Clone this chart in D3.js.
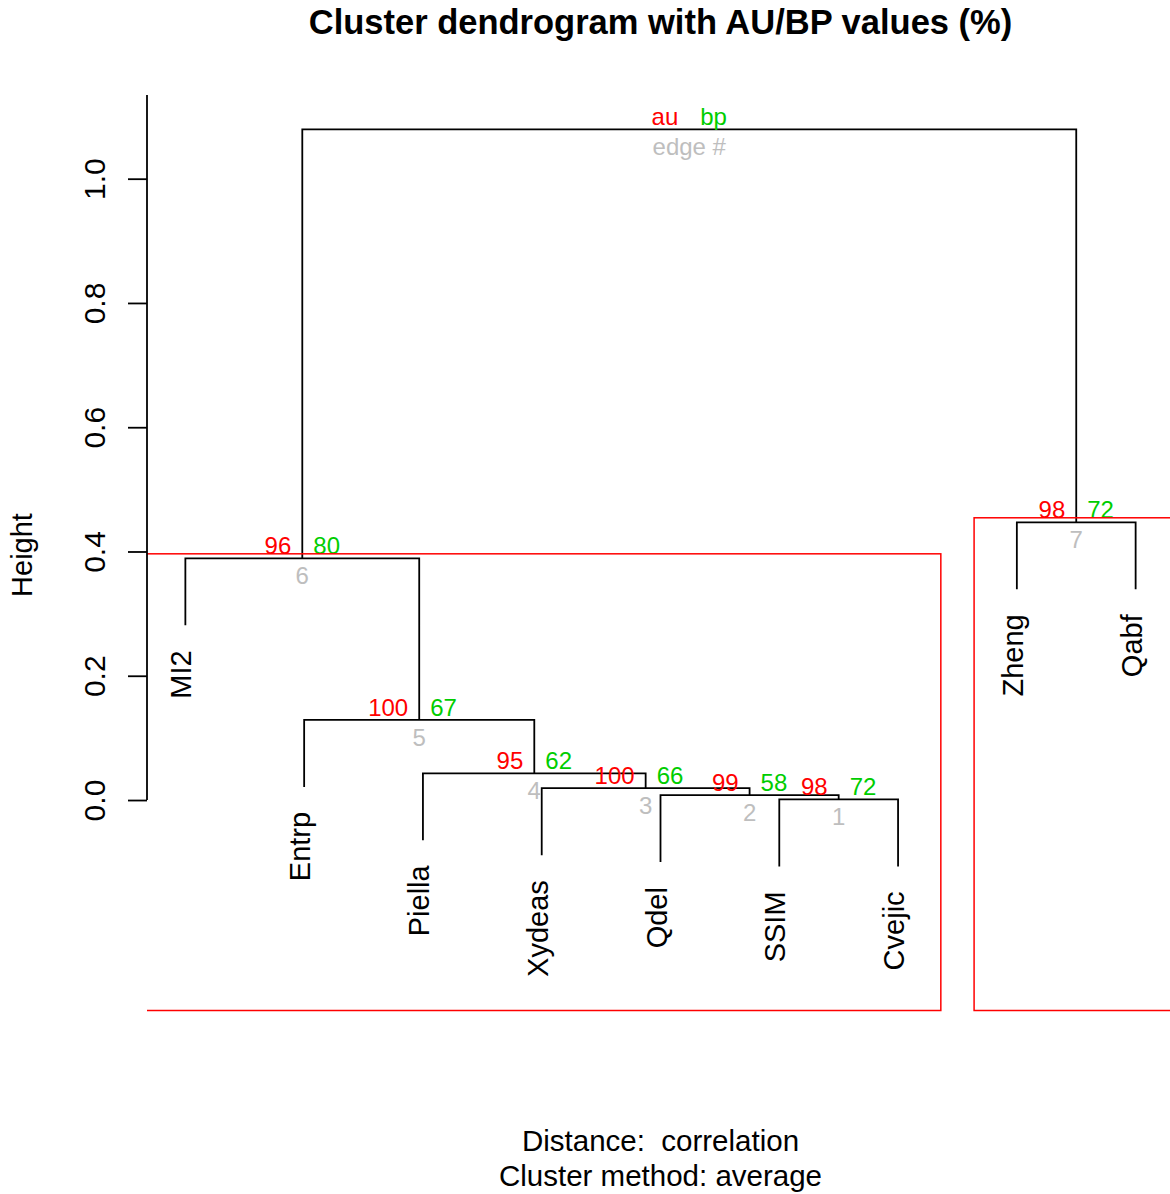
<!DOCTYPE html>
<html lang="en">
<head>
  <meta charset="UTF-8">
  <title>Cluster dendrogram with AU/BP values (%)</title>
  <script src="https://d3js.org/d3.v7.min.js"></script>
  <style>
    body { margin: 0; background: #fff; font-family: "Liberation Sans", Arial, Helvetica, sans-serif; }
    svg text { font-family: "Liberation Sans", Arial, Helvetica, sans-serif; }
  </style>
</head>
<body>
<div id="chart"></div>
<script>
// leaves in plotting order
const leaves = ["MI2", "Entrp", "Piella", "Xydeas", "Qdel", "SSIM", "Cvejic", "Zheng", "Qabf"];

// hclust-style merge table: negative = leaf (1-based), positive = earlier merge
const mergeA = [-6, -5, -4, -3, -2, -1, -8, 6];
const mergeB = [-7, 1, 2, 3, 4, 5, -9, 7];
const heights = [0.001, 0.008, 0.019, 0.043, 0.129, 0.389, 0.447, 1.0795];

// pvclust values per edge (root has none)
const au = [98, 99, 100, 95, 100, 96, 98];
const bp = [72, 58, 66, 62, 67, 80, 72];

// clusters boxed by pvrect (edge numbers)
const rectEdges = [6, 7];

const yTicks = [0, 0.2, 0.4, 0.6, 0.8, 1.0];

const width = 1170, height = 1194;
const colAu = "#ff0000", colBp = "#00cd00", colEdge = "#bebebe";

const svg = d3.select("#chart").append("svg")
  .attr("width", width)
  .attr("height", height);

svg.append("rect").attr("width", width).attr("height", height).attr("fill", "#fff");

// plot region in data units
const xMin = 0.677, xMax = 9.323;
const yMin = -0.346, yMax = 1.1347;

const x = d3.scaleLinear().domain([xMin, xMax]).range([147, 1174]);
const y = d3.scaleLinear().domain([yMin, yMax]).range([1015, 95]);

const hang = 0.1 * (d3.max(heights) - d3.min(heights));

svg.append("clipPath").attr("id", "plotclip")
  .append("rect")
  .attr("x", x(xMin)).attr("y", y(yMax))
  .attr("width", x(xMax) - x(xMin)).attr("height", y(yMin) - y(yMax));

// node positions
const nodeX = [];
const members = [];
function childX(c) { return c < 0 ? -c : nodeX[c - 1]; }
function childMembers(c) { return c < 0 ? [-c] : members[c - 1]; }
mergeA.forEach((a, i) => {
  const b = mergeB[i];
  nodeX.push((childX(a) + childX(b)) / 2);
  members.push(childMembers(a).concat(childMembers(b)));
});

// branches
const g = svg.append("g");
function childBottom(c, parentH) {
  return c < 0 ? parentH - hang : heights[c - 1];
}
mergeA.forEach((a, i) => {
  const b = mergeB[i];
  const h = heights[i];
  const p = d3.path();
  p.moveTo(x(childX(a)), y(childBottom(a, h)));
  p.lineTo(x(childX(a)), y(h));
  p.lineTo(x(childX(b)), y(h));
  p.lineTo(x(childX(b)), y(childBottom(b, h)));
  g.append("path")
    .attr("d", p.toString())
    .attr("fill", "none")
    .attr("stroke", "#000")
    .attr("stroke-width", 1.8);
});

// leaf labels
const leafEnd = new Array(leaves.length);
mergeA.forEach((a, i) => {
  [a, mergeB[i]].forEach(c => { if (c < 0) leafEnd[-c - 1] = heights[i] - hang; });
});
g.selectAll(".leaf")
  .data(leaves)
  .enter()
  .append("text")
  .attr("class", "leaf")
  .attr("transform", (d, i) => `translate(${x(i + 1) + 6},${y(leafEnd[i]) + 25}) rotate(-90)`)
  .attr("text-anchor", "end")
  .attr("font-size", 29)
  .attr("fill", "#000")
  .text(d => d);

// au / bp / edge labels
const nodes = heights.map((h, i) => ({
  x: nodeX[i], h: h,
  au: i < au.length ? au[i] : "au",
  bp: i < bp.length ? bp[i] : "bp",
  edge: i < au.length ? i + 1 : "edge #"
}));

const lab = svg.append("g").attr("font-size", 24);
lab.selectAll(".au").data(nodes).enter().append("text")
  .attr("x", d => x(d.x) - 11).attr("y", d => y(d.h) - 4)
  .attr("text-anchor", "end").attr("fill", colAu).text(d => d.au);
lab.selectAll(".bp").data(nodes).enter().append("text")
  .attr("x", d => x(d.x) + 11).attr("y", d => y(d.h) - 4)
  .attr("text-anchor", "start").attr("fill", colBp).text(d => d.bp);
lab.selectAll(".edge").data(nodes).enter().append("text")
  .attr("x", d => x(d.x)).attr("y", d => y(d.h) + 26)
  .attr("text-anchor", "middle").attr("fill", colEdge).text(d => d.edge);

// pvrect boxes
const mx = 0.36, myPx = 4.5;
svg.append("g").attr("clip-path", "url(#plotclip)")
  .selectAll("rect")
  .data(rectEdges)
  .enter()
  .append("rect")
  .attr("x", e => x(d3.min(members[e - 1]) - mx))
  .attr("y", e => y(heights[e - 1]) - myPx)
  .attr("width", e => x(d3.max(members[e - 1]) + mx) - x(d3.min(members[e - 1]) - mx))
  .attr("height", e => (y(yMin) - myPx) - (y(heights[e - 1]) - myPx))
  .attr("fill", "none")
  .attr("stroke", colAu)
  .attr("stroke-width", 1.5);

// y axis
const axis = svg.append("g")
  .attr("transform", `translate(${x(xMin)},0)`)
  .call(d3.axisLeft(y).tickValues(yTicks).tickFormat(d3.format(".1f")).tickSize(19).tickSizeOuter(0));
axis.select(".domain").remove();
axis.selectAll(".tick line").attr("stroke", "#000").attr("stroke-width", 1.8);
axis.selectAll(".tick text")
  .attr("x", null).attr("dy", null)
  .attr("transform", "translate(-42,0) rotate(-90)")
  .attr("text-anchor", "middle")
  .attr("font-size", 30)
  .attr("fill", "#000");
axis.append("line")
  .attr("x1", 0).attr("x2", 0)
  .attr("y1", y(0)).attr("y2", y(yMax))
  .attr("stroke", "#000").attr("stroke-width", 1.8);

// titles
svg.append("text")
  .attr("transform", `translate(32,${(y(yMin) + y(yMax)) / 2}) rotate(-90)`)
  .attr("text-anchor", "middle").attr("font-size", 29).text("Height");

svg.append("text")
  .attr("x", (x(xMin) + x(xMax)) / 2).attr("y", 34)
  .attr("text-anchor", "middle").attr("font-size", 34.5).attr("font-weight", "bold")
  .text("Cluster dendrogram with AU/BP values (%)");

svg.append("text")
  .attr("x", (x(xMin) + x(xMax)) / 2).attr("y", 1151)
  .attr("text-anchor", "middle").attr("font-size", 29.5).attr("xml:space", "preserve")
  .style("white-space", "pre")
  .text("Distance:  correlation");
svg.append("text")
  .attr("x", (x(xMin) + x(xMax)) / 2).attr("y", 1186)
  .attr("text-anchor", "middle").attr("font-size", 29.5)
  .text("Cluster method: average");
</script>
</body>
</html>
